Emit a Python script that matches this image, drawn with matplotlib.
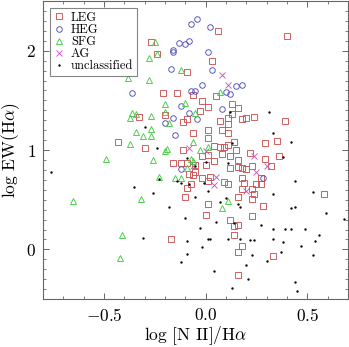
import matplotlib
matplotlib.use("Agg")
import matplotlib.pyplot as plt

plt.rcParams['font.family'] = ['cmr10', 'DejaVu Serif']
plt.rcParams['mathtext.fontset'] = 'cm'
plt.rcParams['axes.formatter.use_mathtext'] = True

# --- data: log [N II]/Ha vs log EW(Ha) per class ---
leg_x = [-0.27, -0.24, 0.06, 0.40, 0.03, -0.09, -0.21, -0.14, -0.06, 0.05,
         -0.02, 0.01, 0.13, 0.16, -0.33, -0.20, -0.03, -0.11, -0.09, 0.07,
         0.11, 0.13, 0.20, 0.18, 0.24, 0.39, 0.11, -0.43, -0.30, 0.01,
         0.08, -0.06, 0.11, 0.01, 0.14, 0.29, 0.35, 0.04, 0.07, 0.09,
         0.11, 0.15, -0.11, -0.02, 0.01, 0.22, 0.36, 0.08, 0.12, -0.16,
         -0.12, -0.09, -0.05, 0.00, 0.04, 0.12, 0.16, 0.16, 0.18, 0.20,
         0.23, 0.29, 0.32, -0.08, -0.06, -0.05, -0.02, 0.01, 0.02, -0.07,
         -0.09, 0.09, 0.11, 0.18, 0.19, 0.27, 0.25, 0.27, 0.18, 0.23,
         0.24, 0.16, 0.23, -0.10, 0.01, 0.28, 0.00, 0.23, 0.12, 0.14,
         0.16, 0.14, -0.17, 0.18, 0.16, 0.33, 0.16, 0.58]
leg_y = [2.09, 1.97, 2.20, 2.15, 1.90, 1.79, 1.57, 1.57, 1.55, 1.54,
         1.49, 1.43, 1.46, 1.42, 1.33, 1.35, 1.39, 1.28, 1.31, 1.29,
         1.32, 1.36, 1.32, 1.31, 1.33, 1.29, 1.26, 1.08, 1.02, 1.20,
         1.20, 1.17, 1.17, 1.12, 1.08, 1.07, 1.09, 1.04, 1.03, 1.03,
         1.05, 1.00, 1.00, 0.94, 0.95, 0.97, 0.94, 0.96, 0.94, 0.87,
         0.87, 0.87, 0.85, 0.85, 0.89, 0.82, 0.83, 0.90, 0.82, 0.81,
         0.84, 0.91, 0.84, 0.76, 0.75, 0.78, 0.72, 0.69, 0.73, 0.66,
         0.62, 0.68, 0.66, 0.72, 0.67, 0.72, 0.66, 0.66, 0.61, 0.61,
         0.56, 0.53, 0.51, 0.53, 0.46, 0.44, 0.35, 0.34, 0.30, 0.24,
         0.25, 0.15, 0.11, 0.03, -0.03, -0.07, -0.26, 0.56]

heg_x = [-0.04, -0.07, 0.02, -0.13, -0.10, -0.08, -0.16, -0.16, 0.01, -0.17,
         0.03, 0.18, 0.15, -0.02, -0.07, -0.05, 0.10, 0.12, -0.36, -0.12,
         0.08, -0.08, -0.16, -0.04, -0.20, -0.15, -0.12, 0.28]
heg_y = [2.32, 2.27, 2.24, 2.08, 2.07, 2.10, 2.01, 1.99, 1.99, 1.82,
         1.81, 1.65, 1.64, 1.65, 1.59, 1.59, 1.58, 1.56, 1.57, 1.44,
         1.41, 1.37, 1.32, 1.31, 1.27, 1.15, 0.81, 0.72]

sfg_x = [-0.25, -0.24, -0.28, -0.12, -0.38, -0.28, 0.07, -0.20, -0.10, -0.20,
         -0.05, -0.37, -0.36, -0.34, -0.27, -0.18, -0.27, -0.34, -0.31, -0.27,
         -0.37, -0.06, -0.20, -0.19, 0.01, -0.03, -0.26, -0.49, -0.07, -0.06,
         -0.09, -0.23, -0.15, -0.12, -0.32, -0.65, 0.11, 0.08, -0.41, -0.42]
sfg_y = [2.09, 1.97, 1.93, 1.81, 1.73, 1.71, 1.58, 1.46, 1.47, 1.38,
         1.37, 1.32, 1.37, 1.36, 1.34, 1.27, 1.21, 1.18, 1.14, 1.14,
         1.06, 1.08, 0.99, 1.01, 1.03, 1.00, 0.90, 0.91, 0.91, 0.89,
         0.82, 0.73, 0.72, 0.72, 0.51, 0.49, 0.49, 0.42, 0.15, -0.09]

ag_x = [0.08, 0.11, -0.08, 0.00, 0.24, 0.30, 0.25, -0.06, 0.05, 0.04, 0.20]
ag_y = [1.76, 1.65, 1.02, 0.99, 0.94, 0.84, 0.78, 0.84, 0.73, 0.65, 0.59]

unc_x = [-0.76, -0.35, -0.26, -0.18, -0.31, -0.30, -0.24, -0.09, -0.05, 0.00,
         -0.08, -0.23, -0.12, -0.05, -0.10, 0.12, 0.31, 0.33, 0.42, 0.13,
         0.38, 0.11, 0.44, 0.53, 0.42, 0.44, 0.59, 0.68, 0.39, 0.42,
         0.49, 0.56, 0.54, 0.47, 0.45, 0.33, 0.16, 0.17, 0.07, 0.01,
         -0.01, -0.14, -0.03, 0.05, 0.27, 0.33, 0.17, 0.22, 0.24, 0.33,
         0.38, 0.53, 0.23, -0.09, -0.12, 0.20, 0.04, 0.21, 0.44, 0.13,
         0.01, 0.02, 0.11, -0.09, -0.02, 0.14, 0.37, 0.30, 0.10]
unc_y = [0.78, 0.63, 0.57, 0.43, 0.12, 1.23, 1.02, 0.92, 0.84, 0.88,
         0.66, 0.71, 0.67, 0.53, 0.32, 1.38, 1.38, 1.17, 1.08, 1.07,
         0.93, 0.87, 0.69, 0.58, 0.42, 0.43, 0.37, 0.31, 0.21, 0.21,
         0.21, 0.15, 0.08, 0.03, -0.42, 0.56, 0.46, 0.43, 0.48, 0.59,
         0.67, 0.69, 0.22, 0.28, 0.25, 0.21, 0.10, 0.09, 0.09, 0.11,
         0.07, -0.06, -0.06, -0.05, -0.13, -0.16, -0.22, -0.30, -0.33, -0.39,
         0.11, 0.10, 0.11, 0.08, 0.02, 0.27, -0.03, -0.12, 0.52]

xticks = [-0.5, 0.0, 0.5]
xtick_labels = [r'$-0.5$', r'$0.0$', r'$0.5$']
yticks = [0, 1, 2]
ytick_labels = [r'$0$', r'$1$', r'$2$']

fig = plt.figure(figsize=(3.49, 3.47), dpi=100)
ax = fig.add_axes([0.123, 0.138, 0.874, 0.859])

ax.plot(leg_x, leg_y, 's', ms=4.4, mfc='none', mec='#cc5555', mew=0.65, label='LEG')
ax.plot(heg_x, heg_y, 'o', ms=4.0, mfc='none', mec='#5050bb', mew=0.65, label='HEG')
ax.plot(sfg_x, sfg_y, '^', ms=4.3, mfc='none', mec='#44cc44', mew=0.65, label='SFG')
ax.plot(ag_x, ag_y, 'x', ms=4.0, mec='#cc55cc', mew=0.65, label='AG')
ax.plot(unc_x, unc_y, '.', ms=1.4, color='black', label='unclassified')

ax.set_xlim(-0.8, 0.7)
ax.set_ylim(-0.5, 2.5)
ax.set_xticks(xticks)
ax.set_xticklabels(xtick_labels)
ax.set_yticks(yticks)
ax.set_yticklabels(ytick_labels)
ax.xaxis.set_minor_locator(plt.MultipleLocator(0.1))
ax.yaxis.set_minor_locator(plt.MultipleLocator(0.1))
ax.tick_params(which='both', direction='in', top=True, right=True, color='#666666')
ax.tick_params(which='major', length=4.5, width=0.7, labelsize=12.5)
ax.tick_params(axis='x', which='major', pad=6)
ax.tick_params(axis='y', which='major', pad=5)
ax.tick_params(which='minor', length=2.4, width=0.6)
for s in ax.spines.values():
    s.set_color('#666666')
    s.set_linewidth(0.8)

ax.set_xlabel(r'log [N II]/H$\alpha$', fontsize=12.5, labelpad=0)
ax.set_ylabel(r'log EW(H$\alpha$)', fontsize=12.5, labelpad=3)

leg = ax.legend(loc='upper left', fontsize=9, frameon=True, fancybox=False,
                edgecolor='#666666', handlelength=0.8, handletextpad=0.6,
                borderpad=0.3, labelspacing=0.0, borderaxespad=0.55,
                markerscale=1.0)
leg.get_frame().set_linewidth(0.8)

fig.savefig('out.png', dpi=100)
